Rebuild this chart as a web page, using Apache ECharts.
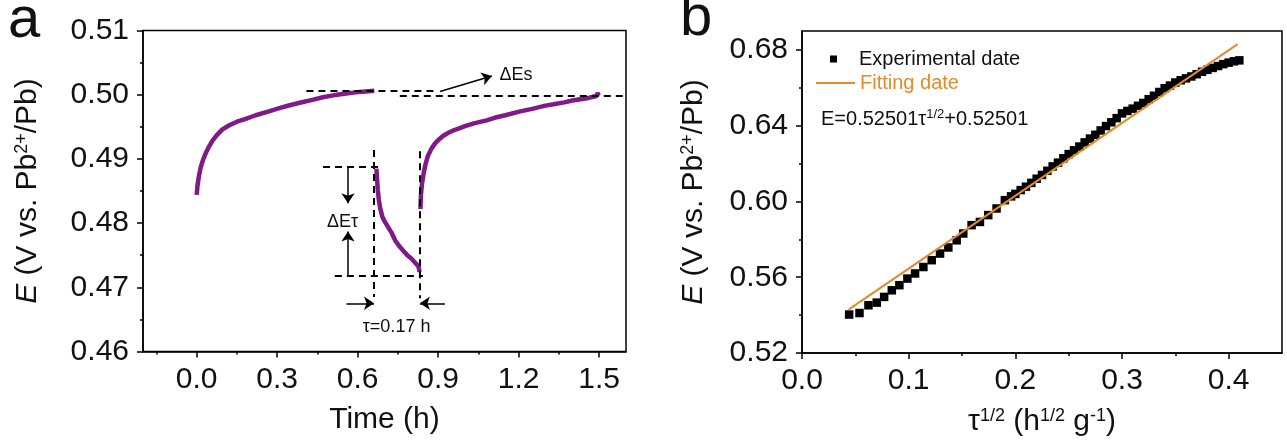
<!DOCTYPE html>
<html><head><meta charset="utf-8">
<script src="https://cdn.jsdelivr.net/npm/echarts@6/dist/echarts.min.js"></script>
<style>html,body{margin:0;padding:0;background:#fff}#c{width:1287px;height:447px}</style>
</head><body><div id="c"></div>
<script>
// ---------- Panel a: galvanostatic pulse (time in h, E in V) ----------
const seg1Time = [0, 0.003, 0.008, 0.015, 0.025, 0.035, 0.047, 0.06, 0.075, 0.096, 0.12, 0.15, 0.18, 0.22, 0.26, 0.308, 0.35, 0.40, 0.432, 0.47, 0.51, 0.557, 0.60, 0.63, 0.662];
const seg1E    = [0.4844, 0.4858, 0.4872, 0.4887, 0.4900, 0.4910, 0.4920, 0.4929, 0.4937, 0.4946, 0.4952, 0.4958, 0.4962, 0.4968, 0.4973, 0.4979, 0.4984, 0.4989, 0.4992, 0.4996, 0.4999, 0.5002, 0.5004, 0.5005, 0.5006];
const seg2Time = [0.670, 0.672, 0.675, 0.679, 0.684, 0.692, 0.700, 0.713, 0.725, 0.740, 0.757, 0.770, 0.785, 0.800, 0.815, 0.826, 0.831];
const seg2E    = [0.4885, 0.4870, 0.4852, 0.4836, 0.4823, 0.4810, 0.4803, 0.4794, 0.4786, 0.4773, 0.4763, 0.4757, 0.4750, 0.4745, 0.4738, 0.4733, 0.4724];
const seg3Time = [0.834, 0.836, 0.840, 0.846, 0.853, 0.862, 0.875, 0.890, 0.905, 0.919, 0.940, 0.960, 0.981, 1.00, 1.03, 1.06, 1.081, 1.11, 1.15, 1.206, 1.25, 1.30, 1.33, 1.37, 1.40, 1.43, 1.46, 1.49, 1.495, 1.497, 1.50];
const seg3E    = [0.4822, 0.4845, 0.4862, 0.4878, 0.4892, 0.4905, 0.4916, 0.4925, 0.4931, 0.4936, 0.4941, 0.4945, 0.4948, 0.4951, 0.4955, 0.4958, 0.4960, 0.4964, 0.4968, 0.4974, 0.4978, 0.4983, 0.4985, 0.4988, 0.4991, 0.4993, 0.4995, 0.4998, 0.5003, 0.4999, 0.4998];

const aXLabels = [0, 0.3, 0.6, 0.9, 1.2, 1.5];
const aXMinor  = [-0.15, 0.15, 0.45, 0.75, 1.05, 1.35];

// annotation geometry (data coordinates)
const aDashed = [
  [[0.409, 0.50058], [0.899, 0.50058]],
  [[0.757, 0.4998], [1.6, 0.4998]],
  [[0.471, 0.48879], [0.694, 0.48879]],
  [[0.515, 0.47181], [0.843, 0.47181]],
  [[0.661, 0.4914], [0.661, 0.4685]],
  [[0.832, 0.4912], [0.832, 0.4683]]
];
const aArrows = [
  [[0.907, 0.5005], [1.10, 0.5029]],
  [[0.564, 0.4888], [0.564, 0.4831]],
  [[0.564, 0.4718], [0.564, 0.4787]],
  [[0.558, 0.46751], [0.661, 0.46751]],
  [[0.925, 0.46751], [0.832, 0.46751]]
];
const aTexts = [
  ['ΔEs', 1.19, 0.5031],
  ['ΔEτ', 0.544, 0.48022],
  ['τ=0.17 h', 0.745, 0.46386]
];

// ---------- Panel b: E vs tau^1/2 ----------
const tauHalf = [0.0442, 0.0539, 0.0623, 0.0701, 0.0770, 0.0842, 0.0913, 0.0988, 0.1060, 0.1138, 0.1216, 0.1294, 0.1372, 0.1450, 0.1512, 0.1590, 0.1668, 0.1746, 0.1824, 0.1902, 0.1960,
  0.200, 0.205, 0.210, 0.215, 0.220, 0.225, 0.230, 0.235, 0.240, 0.245, 0.250, 0.255, 0.260, 0.265, 0.270, 0.275, 0.280, 0.285, 0.290, 0.295, 0.300, 0.305, 0.310, 0.315, 0.320, 0.325, 0.330, 0.335, 0.340, 0.345, 0.350, 0.355, 0.360, 0.365, 0.370, 0.375, 0.380, 0.385, 0.390, 0.395, 0.400, 0.405, 0.410];
const potentialB = [0.5403, 0.5411, 0.5452, 0.5466, 0.5496, 0.5531, 0.5558, 0.5593, 0.5620, 0.5654, 0.5690, 0.5725, 0.5757, 0.5795, 0.5831, 0.5875, 0.5892, 0.5928, 0.5963, 0.6007, 0.6027,
  0.6040, 0.6060, 0.6078, 0.6098, 0.6120, 0.6140, 0.6162, 0.6185, 0.6205, 0.6228, 0.6250, 0.6270, 0.6290, 0.6312, 0.6332, 0.6352, 0.6375, 0.6398, 0.6418, 0.6440, 0.6465, 0.6478, 0.6490, 0.6505, 0.6520, 0.6540, 0.6558, 0.6578, 0.6598, 0.6612, 0.6628, 0.6640, 0.6650, 0.6660, 0.6672, 0.6685, 0.6695, 0.6705, 0.6715, 0.6725, 0.6733, 0.6740, 0.6745];
const fitX = [0.0436, 0.4084];
const fitE = [0.5429, 0.6831];

const bXLabels = [0, 0.1, 0.2, 0.3, 0.4];
const bXMinor  = [0.05, 0.15, 0.25, 0.35];
const bYLabels = [0.52, 0.56, 0.60, 0.64, 0.68];
const bYMinor  = [0.54, 0.58, 0.62, 0.66];

const FONT = '"Liberation Sans", Arial, sans-serif';
const purple = '#7f1a86';
const orange = '#e58a2c';
const zip = (a, b) => a.map((v, i) => [v, b[i]]);

const chart = echarts.init(document.getElementById('c'), null, {renderer: 'canvas'});

const axisLineStyle = {show: true, onZero: false, lineStyle: {color: '#000', width: 1.5}};
const supRich = {
  it: {fontStyle: 'italic', fontSize: 30, fontFamily: FONT, color: '#111'},
  sup: {fontSize: 18, fontFamily: FONT, verticalAlign: 'top', lineHeight: 30, color: '#111'},
  n: {fontSize: 30, fontFamily: FONT, color: '#111'}
};

function mainX(grid, min, max, labels, name, nameGap, dec) {
  return {
    type: 'value', gridIndex: grid, min, max, position: 'bottom',
    axisLine: axisLineStyle,
    axisTick: {show: true, length: 6, customValues: labels, lineStyle: {color: '#000', width: 1.5}},
    axisLabel: {customValues: labels, formatter: v => v.toFixed(dec), fontSize: 30, fontFamily: FONT, color: '#111', margin: 13},
    splitLine: {show: false},
    name, nameLocation: 'middle', nameGap,
    nameTextStyle: {fontSize: 30, fontFamily: FONT, color: '#111', rich: supRich}
  };
}
function minorX(grid, min, max, vals) {
  return {
    type: 'value', gridIndex: grid, min, max, position: 'bottom',
    axisLine: {show: false, onZero: false},
    axisTick: {show: true, length: 3, customValues: vals, lineStyle: {color: '#000', width: 1.5}},
    axisLabel: {show: false}, splitLine: {show: false}
  };
}

const option = {
  animation: false,
  backgroundColor: '#fff',
  grid: [
    {left: 143, top: 30.5, width: 483, height: 321, show: true, borderColor: '#000', borderWidth: 1.5, backgroundColor: 'transparent'},
    {left: 802, top: 31, width: 480, height: 322, show: true, borderColor: '#000', borderWidth: 1.5, backgroundColor: 'transparent'}
  ],
  xAxis: [
    mainX(0, -0.2, 1.6, aXLabels, 'Time (h)', 53, 1),
    minorX(0, -0.2, 1.6, aXMinor),
    mainX(1, 0, 0.45, bXLabels, '{n|τ}{sup|1/2}{n| (h}{sup|1/2}{n| g}{sup|-1}{n|)}', 54, 1),
    minorX(1, 0, 0.45, bXMinor)
  ],
  yAxis: [
    {
      type: 'value', gridIndex: 0, min: 0.46, max: 0.51, interval: 0.01, position: 'left',
      axisLine: axisLineStyle,
      axisTick: {show: true, length: 6, lineStyle: {color: '#000', width: 1.5}},
      minorTick: {show: true, splitNumber: 2, length: 3, lineStyle: {color: '#000', width: 1.5}},
      axisLabel: {formatter: v => v.toFixed(2), fontSize: 30, fontFamily: FONT, color: '#111', margin: 14},
      splitLine: {show: false},
      name: '{it|E}{n| (V vs. Pb}{sup|2+}{n|/Pb)}', nameLocation: 'middle', nameGap: 100, nameRotate: 90,
      nameTextStyle: {fontSize: 30, fontFamily: FONT, color: '#111', rich: supRich}
    },
    {
      type: 'value', gridIndex: 1, min: 0.52, max: 0.69, position: 'left',
      axisLine: axisLineStyle,
      axisTick: {show: true, length: 6, customValues: bYLabels, lineStyle: {color: '#000', width: 1.5}},
      axisLabel: {customValues: bYLabels, formatter: v => v.toFixed(2), fontSize: 30, fontFamily: FONT, color: '#111', margin: 14},
      splitLine: {show: false},
      name: '{it|E}{n| (V vs. Pb}{sup|2+}{n|/Pb)}', nameLocation: 'middle', nameGap: 93, nameRotate: 90,
      nameTextStyle: {fontSize: 30, fontFamily: FONT, color: '#111', rich: supRich}
    },
    {
      type: 'value', gridIndex: 1, min: 0.52, max: 0.69, position: 'left',
      axisLine: {show: false, onZero: false},
      axisTick: {show: true, length: 3, customValues: bYMinor, lineStyle: {color: '#000', width: 1.5}},
      axisLabel: {show: false}, splitLine: {show: false}
    }
  ],
  legend: [
    {
      left: 830, top: 49, padding: 0, itemWidth: 7, itemHeight: 7,
      data: [{name: 'Experimental date', icon: 'rect'}],
      textStyle: {fontSize: 20, fontFamily: FONT, color: '#111', padding: [0, 0, 0, 17]}
    },
    {
      left: 816, top: 73, padding: 0, itemWidth: 39, itemHeight: 2,
      data: [{name: 'Fitting date', icon: 'rect'}],
      textStyle: {fontSize: 20, fontFamily: FONT, color: orange}
    }
  ],
  graphic: [
    {type: 'text', left: 8, top: -8, style: {text: 'a', fontSize: 58, fontFamily: FONT, fill: '#111'}},
    {type: 'text', left: 680, top: -10, style: {text: 'b', fontSize: 58, fontFamily: FONT, fill: '#111'}},
    {type: 'text', left: 821, top: 108, style: {
      text: '{n|E=0.52501τ}{sup|1/2}{n|+0.52501}',
      rich: {n: {fontSize: 20, fontFamily: FONT, fill: '#111'}, sup: {fontSize: 13, fontFamily: FONT, fill: '#111', verticalAlign: 'top', lineHeight: 22}}
    }}
  ],
  series: [
    {
      type: 'line', xAxisIndex: 0, yAxisIndex: 0, data: zip(seg1Time, seg1E), showSymbol: false,
      lineStyle: {color: purple, width: 4.5}, silent: true,
      markLine: {
        silent: true, symbol: 'none', animation: false, label: {show: false},
        lineStyle: {color: '#000', width: 2, type: [7, 5]},
        data: aDashed.map(p => [{coord: p[0]}, {coord: p[1]}])
      },
      markPoint: {
        silent: true, symbol: 'circle', symbolSize: 0,
        label: {show: true, position: 'inside', fontSize: 18, fontFamily: FONT, color: '#111'},
        data: aTexts.map(t => ({coord: [t[1], t[2]], value: t[0], label: {formatter: t[0]}}))
      }
    },
    {
      type: 'line', xAxisIndex: 0, yAxisIndex: 0, data: zip(seg2Time, seg2E), showSymbol: false,
      lineStyle: {color: purple, width: 4.5}, silent: true,
      markLine: {
        silent: true, symbol: ['none', 'arrow'], symbolSize: 10, animation: false, label: {show: false},
        lineStyle: {color: '#000', width: 1.5, type: 'solid'},
        data: aArrows.map(p => [{coord: p[0]}, {coord: p[1]}])
      }
    },
    {
      type: 'line', xAxisIndex: 0, yAxisIndex: 0, data: zip(seg3Time, seg3E), showSymbol: false,
      lineStyle: {color: purple, width: 4.5}, silent: true
    },
    {
      name: 'Experimental date', type: 'scatter', xAxisIndex: 2, yAxisIndex: 1,
      data: zip(tauHalf, potentialB), symbol: 'rect', symbolSize: 8.5,
      itemStyle: {color: '#000', opacity: 1}, z: 2
    },
    {
      name: 'Fitting date', type: 'line', xAxisIndex: 2, yAxisIndex: 1,
      data: zip(fitX, fitE), showSymbol: false, symbol: 'none',
      lineStyle: {color: orange, width: 2}, itemStyle: {color: orange}, z: 3
    }
  ]
};
chart.setOption(option);
</script></body></html>
